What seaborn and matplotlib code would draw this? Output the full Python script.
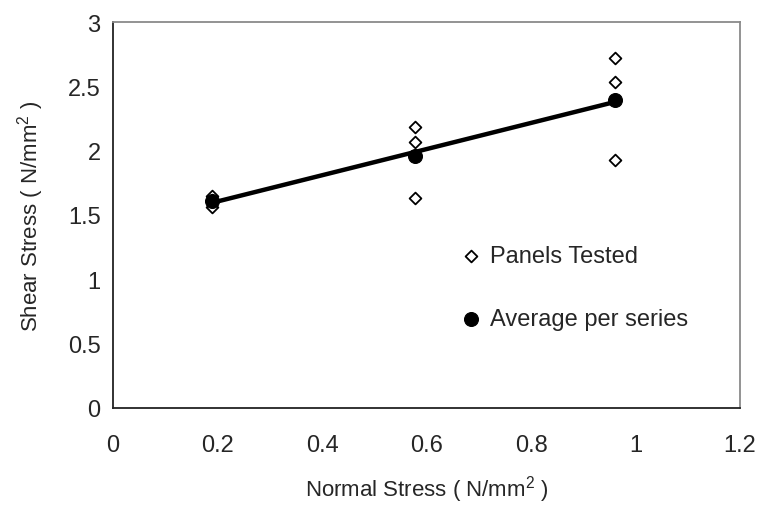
import numpy as np
import pandas as pd
import matplotlib
matplotlib.use("Agg")
import matplotlib.pyplot as plt
import seaborn as sns

# Normal stress applied for each test series (N/mm^2)
normal_stress = [0.19, 0.577, 0.96]
# Shear stress at failure for the individual panels of each series (N/mm^2)
series_1 = [1.65, 1.62, 1.56]
series_2 = [2.18, 2.065, 1.63]
series_3 = [2.72, 2.53, 1.93]

x_ticks = [0, 0.2, 0.4, 0.6, 0.8, 1, 1.2]
y_ticks = [0, 0.5, 1, 1.5, 2, 2.5, 3]

panel_values = [series_1, series_2, series_3]
panels = pd.DataFrame({
    "normal": np.repeat(normal_stress, [len(s) for s in panel_values]),
    "shear": np.concatenate(panel_values),
})
averages = pd.DataFrame({
    "normal": normal_stress,
    "shear": [np.mean(s) for s in panel_values],
})

sns.set_style("white")
plt.rcParams["font.family"] = ["Liberation Sans", "DejaVu Sans"]
plt.rcParams["mathtext.fontset"] = "custom"
plt.rcParams["mathtext.rm"] = "Liberation Sans"

fig = plt.figure(figsize=(7.59, 5.06), dpi=100)
ax = fig.add_axes([0.149, 0.192, 0.826, 0.7625])

# Individual panel results
sns.scatterplot(data=panels, x="normal", y="shear", ax=ax, marker="D",
                s=36, facecolor="white", edgecolor="black", linewidth=1.3,
                label="Panels Tested", zorder=3)
# Linear trend through the series averages
sns.regplot(data=averages, x="normal", y="shear", ax=ax, scatter=False,
            ci=None, truncate=True, color="black",
            line_kws={"linewidth": 3.2, "zorder": 4})
# Series averages
sns.scatterplot(data=averages, x="normal", y="shear", ax=ax, marker="o",
                s=100, color="black", edgecolor="black",
                label="Average per series", zorder=5)

ax.set_xlim(0, 1.2)
ax.set_ylim(0, 3)
ax.set_xticks(x_ticks)
ax.set_yticks(y_ticks)
ax.set_xticklabels([f"{t:g}" for t in x_ticks], fontsize=17)
ax.set_yticklabels([f"{t:g}" for t in y_ticks], fontsize=17)
ax.tick_params(axis="both", direction="in", length=5, width=1, color="black")
ax.tick_params(axis="x", pad=19)
ax.tick_params(axis="y", pad=9)

ax.set_xlabel("Normal Stress ( N/mm$^2$ )", fontsize=16, labelpad=12)
ax.set_ylabel("Shear Stress ( N/mm$^2$ )", fontsize=16, labelpad=16)

for side in ["left", "bottom"]:
    ax.spines[side].set_color("#222222")
    ax.spines[side].set_linewidth(1.3)
for side in ["top", "right"]:
    ax.spines[side].set_color("#8a8a8a")
    ax.spines[side].set_linewidth(1.3)

handles, labels = ax.get_legend_handles_labels()
ax.legend(handles, labels, loc="upper left", bbox_to_anchor=(0.545, 0.447),
          frameon=False, fontsize=17, handlelength=0.6, handletextpad=0.5,
          labelspacing=1.75, borderaxespad=0)

fig.savefig("out.png", dpi=100)
